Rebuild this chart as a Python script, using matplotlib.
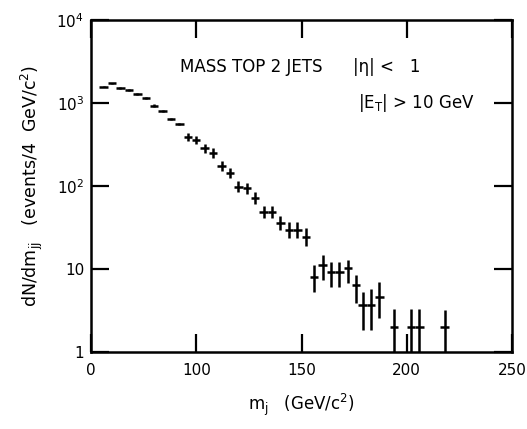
import matplotlib.pyplot as plt
import numpy as np

# bin centres (GeV/c^2) and contents, bins are 4 GeV wide
m_jj = [56, 60, 64, 68, 72, 76, 80, 84, 88, 92,
        96, 100, 104, 108, 112, 116, 120, 124, 128, 132,
        136, 140, 144, 148, 152, 156, 160, 164, 168, 172,
        176, 179, 183, 187, 194, 202, 206, 218]
counts = [1580, 1720, 1520, 1420, 1280, 1160, 930, 800, 645, 560,
          389, 358, 287, 250, 174, 145, 98, 94, 71, 49,
          49, 36, 29.5, 29.5, 24, 8.1, 11.2, 9.3, 9.3, 10.2,
          6.4, 3.7, 3.7, 4.6, 2, 2, 2, 2]
# lower / upper ends of the vertical error bars
counts_lo = [1540, 1680, 1480, 1385, 1245, 1125, 900, 775, 625, 540,
             348, 321, 253, 220, 152, 126, 84, 80.5, 60, 41.5,
             41.5, 29.8, 23.6, 23.6, 18.8, 5.3, 7.4, 6.1, 6.1, 6.7,
             3.9, 1.84, 1.84, 2.55, 1, 1, 1, 1]
counts_hi = [1620, 1760, 1560, 1460, 1320, 1195, 960, 825, 665, 580,
             435, 400, 325, 283, 200, 166, 114, 109, 84, 58,
             58, 43.9, 36.8, 36.8, 30.9, 11.2, 14.7, 12.2, 12.2, 12.8,
             8.5, 5.3, 5.7, 7.0, 3.3, 3.3, 3.3, 3.2]
bin_half = 2.0

xticks = [50, 100, 150, 200, 250]
xticklabels = ['0', '100', '150', '200', '250']
yticks = [1, 10, 100, 1000, 10000]
yticklabels = ['1', '10', '10$^2$', '10$^3$', '10$^4$']

plt.rcParams['font.family'] = ['DejaVu Sans']
plt.rcParams['mathtext.fontset'] = 'dejavusans'

fig = plt.figure(figsize=(5.27, 4.29), dpi=100)
ax = fig.add_axes([0.1727, 0.1795, 0.7989, 0.7739])

y = np.array(counts)
yerr = [y - np.array(counts_lo), np.array(counts_hi) - y]
ax.errorbar(m_jj, counts, xerr=bin_half, yerr=yerr, fmt='none',
            ecolor='k', elinewidth=1.8, capsize=0)

ax.set_yscale('log')
ax.set_xlim(50, 250)
ax.set_ylim(1, 1e4)
ax.set_xticks(xticks)
ax.set_xticklabels(xticklabels)
ax.set_yticks(yticks)
ax.set_yticklabels(yticklabels)
ax.minorticks_off()
ax.tick_params(direction='in', length=13, width=1.6, top=True, right=True,
               labelsize=11)
ax.tick_params(axis='x', pad=8)
ax.tick_params(axis='y', pad=5)
for s in ax.spines.values():
    s.set_linewidth(1.8)

ax.set_xlabel(r'm$_{\rm j}$   (GeV/c$^2$)', fontsize=12, labelpad=10)
ax.set_ylabel(r'dN/dm$_{\rm jj}$   (events/4  GeV/c$^2$)', fontsize=12.5,
              labelpad=8)

ax.text(0.211, 0.858, 'MASS TOP 2 JETS', transform=ax.transAxes,
        fontsize=12, va='center')
ax.text(0.622, 0.858, '|η| <   1', transform=ax.transAxes,
        fontsize=12, va='center')
ax.text(0.634, 0.75, r'|E$_{\rm T}$| > 10 GeV', transform=ax.transAxes,
        fontsize=12, va='center')

fig.savefig('out.png', dpi=100)
